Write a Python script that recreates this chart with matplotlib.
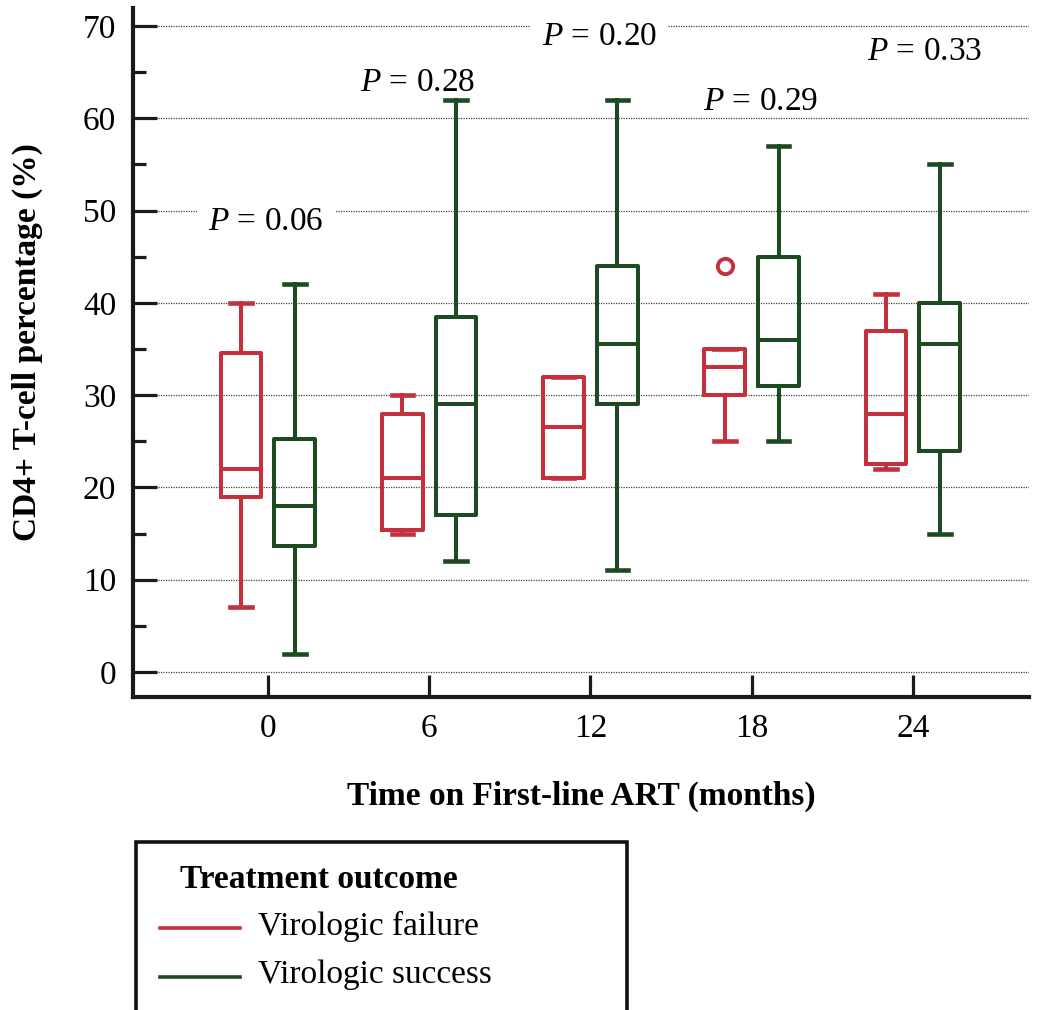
import matplotlib
matplotlib.use("Agg")
import matplotlib.pyplot as plt
from matplotlib.lines import Line2D
from matplotlib.patches import Rectangle

plt.rcParams["font.family"] = ["Liberation Serif", "DejaVu Serif"]
plt.rcParams["mathtext.fontset"] = "custom"
plt.rcParams["mathtext.rm"] = "Liberation Serif"
plt.rcParams["mathtext.it"] = "Liberation Serif:italic"

# Months on first-line ART
months = [0, 6, 12, 18, 24]
month_labels = ["0", "6", "12", "18", "24"]

# Five-number summaries: (low whisker, Q1, median, Q3, high whisker)
failure_low = [7, 15, 21, 25, 22]
failure_q1 = [19, 15.4, 21, 30, 22.5]
failure_med = [22, 21, 26.5, 33, 28]
failure_q3 = [34.6, 28, 32, 35, 37]
failure_high = [40, 30, 32, 35, 41]
failure_fliers = [[], [], [], [44], []]

success_low = [2, 12, 11, 25, 15]
success_q1 = [13.7, 17, 29, 31, 24]
success_med = [18, 29, 35.5, 36, 35.5]
success_q3 = [25.2, 38.5, 44, 45, 40]
success_high = [42, 62, 62, 57, 55]
success_fliers = [[], [], [], [], []]

p_values = ["0.06", "0.28", "0.20", "0.29", "0.33"]
p_label_x = [-0.07, 5.56, 12.35, 18.34, 24.45]
p_label_y = [47.9, 62.96, 67.94, 60.9, 66.3]
p_label_masked = [True, False, True, False, False]

RED = "#c4303e"
GREEN = "#1e4a22"


def make_stats(low, q1, med, q3, high, fliers):
    return [dict(whislo=a, q1=b, med=c, q3=d, whishi=e, fliers=f)
            for a, b, c, d, e, f in zip(low, q1, med, q3, high, fliers)]


fig = plt.figure(figsize=(10.46, 10.10), dpi=100)
ax = fig.add_axes([133 / 1046, 1 - 697 / 1010, (1029 - 133) / 1046, (697 - 8) / 1010])

offset = 1.0
width = 1.52
lw = 2.9


def draw(stats, positions, color):
    ax.bxp(stats, positions=positions, widths=width, capwidths=0.8,
           showfliers=True, patch_artist=False,
           boxprops=dict(color=color, linewidth=lw),
           whiskerprops=dict(color=color, linewidth=lw),
           capprops=dict(color=color, linewidth=lw + 0.4),
           medianprops=dict(color=color, linewidth=lw),
           flierprops=dict(marker="o", markerfacecolor="none",
                           markeredgecolor=color, markeredgewidth=2.8,
                           markersize=11),
           manage_ticks=False, zorder=3)


draw(make_stats(failure_low, failure_q1, failure_med, failure_q3, failure_high, failure_fliers),
     [m - offset for m in months], RED)
draw(make_stats(success_low, success_q1, success_med, success_q3, success_high, success_fliers),
     [m + offset for m in months], GREEN)

ax.set_xlim(-5.02, 28.32)
ax.set_ylim(-2.71, 71.95)

# Axes frame: only left and bottom spines
for side in ["top", "right"]:
    ax.spines[side].set_visible(False)
for side in ["left", "bottom"]:
    ax.spines[side].set_linewidth(3.0)
    ax.spines[side].set_color("#1a1a1a")

ax.set_yticks(range(0, 71, 10))
ax.set_yticks(range(5, 70, 10), minor=True)
ax.set_xticks(months)
ax.set_xticklabels(month_labels)
ax.tick_params(axis="y", which="major", direction="in", length=17, width=2.3,
               color="#1a1a1a", labelsize=24, pad=12)
ax.tick_params(axis="y", which="minor", direction="in", length=9, width=2.3,
               color="#1a1a1a")
ax.tick_params(axis="x", which="major", direction="in", length=16, width=2.3,
               color="#1a1a1a", labelsize=24, pad=12)

ax.yaxis.grid(True, which="major", linestyle=(0, (1, 1)), color="#444444", linewidth=0.9)
ax.set_axisbelow(True)

ax.set_ylabel("CD4+ T-cell percentage (%)", fontsize=24, fontweight="bold")
ax.yaxis.set_label_coords(-0.1, 0.515)
ax.set_xlabel("Time on First-line ART (months)", fontsize=24, fontweight="bold", labelpad=26)

for px, py, pv, masked in zip(p_label_x, p_label_y, p_values, p_label_masked):
    kw = {}
    if masked:
        kw["bbox"] = dict(facecolor="white", edgecolor="none", pad=8)
    ax.text(px, py, "$P$ = " + pv, fontsize=24, ha="center", va="baseline", zorder=4, **kw)

# Legend panel below the axes
fig.patches.append(Rectangle((136 / 1046, -0.02), (627 - 136) / 1046, (1010 - 842) / 1010 + 0.02,
                             transform=fig.transFigure, facecolor="white",
                             edgecolor="#111111", linewidth=2.6, clip_on=False))
fig.text(180 / 1046, 1 - 880 / 1010, "Treatment outcome", fontsize=24,
         fontweight="bold", va="center", ha="left")
for yy, color, label in [(928, RED, "Virologic failure"), (977, GREEN, "Virologic success")]:
    fig.lines.append(Line2D([160 / 1046, 240 / 1046], [1 - yy / 1010] * 2,
                            transform=fig.transFigure, color=color, linewidth=2.6))
    fig.text(258 / 1046, 1 - (yy - 2) / 1010, label, fontsize=24, va="center", ha="left")

fig.savefig("out.png", dpi=100)
